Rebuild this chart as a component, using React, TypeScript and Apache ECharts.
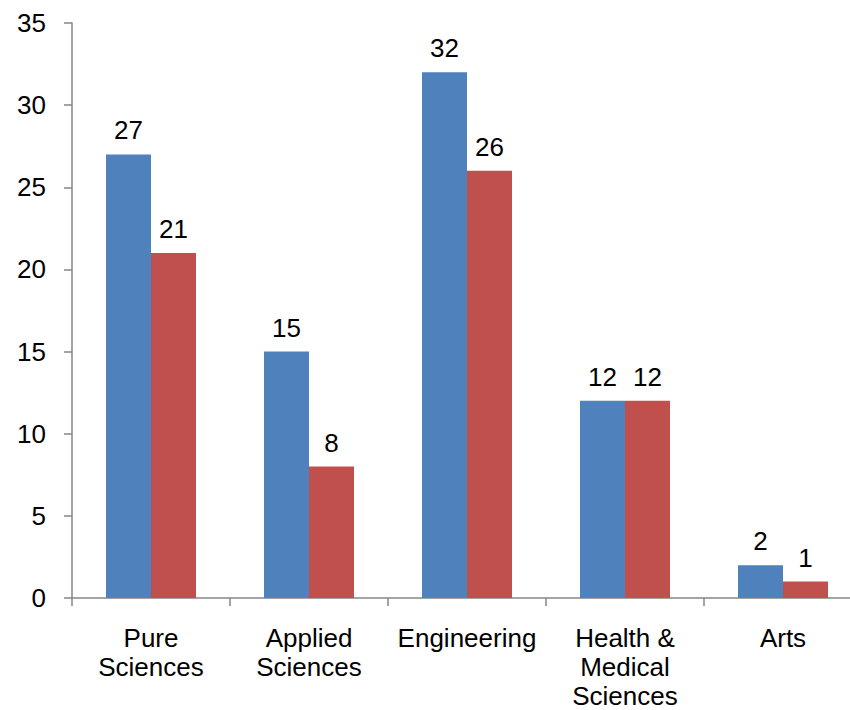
import React, { useEffect, useRef } from "react";
import * as echarts from "echarts";

const categories = ["Pure Sciences", "Applied Sciences", "Engineering", "Health & Medical Sciences", "Arts"];
const categoryLabels = ["Pure\nSciences", "Applied\nSciences", "Engineering", "Health &\nMedical\nSciences", "Arts"];
const seriesA = [27, 15, 32, 12, 2];
const seriesB = [21, 8, 26, 12, 1];
const yTicks = { min: 0, max: 35, interval: 5 };

const FONT = "'Liberation Sans', Arial, sans-serif";

export default function App() {
  const ref = useRef<HTMLDivElement>(null);
  useEffect(() => {
    if (!ref.current) return;
    const chart = echarts.init(ref.current, null, { renderer: "svg" });
    const labelStyle = {
      show: true,
      position: "top" as const,
      distance: 11,
      color: "#000",
      fontSize: 26,
      fontFamily: FONT,
    };
    chart.setOption({
      animation: false,
      backgroundColor: "#fff",
      grid: {
        left: 72,
        top: 23,
        width: 790,
        height: 575,
        containLabel: false,
        outerBoundsMode: "none",
      },
      xAxis: {
        type: "category",
        data: categories,
        axisLine: { show: true, lineStyle: { color: "#868686", width: 1.5 } },
        axisTick: { show: true, length: 8, lineStyle: { color: "#868686", width: 1.5 } },
        axisLabel: {
          interval: 0,
          margin: 25,
          color: "#000",
          fontSize: 26,
          fontFamily: FONT,
          lineHeight: 29,
          formatter: (_v: string, i: number) => categoryLabels[i],
        },
      },
      yAxis: {
        type: "value",
        min: yTicks.min,
        max: yTicks.max,
        interval: yTicks.interval,
        splitLine: { show: false },
        axisLine: { show: true, lineStyle: { color: "#868686", width: 1.5 } },
        axisTick: { show: true, length: 8, lineStyle: { color: "#868686", width: 1.5 } },
        axisLabel: { margin: 26, color: "#000", fontSize: 26, fontFamily: FONT },
      },
      series: [
        {
          type: "bar",
          data: seriesA,
          barWidth: 45,
          barGap: "0%",
          itemStyle: { color: "#4F81BD" },
          label: labelStyle,
        },
        {
          type: "bar",
          data: seriesB,
          barWidth: 45,
          barGap: "0%",
          itemStyle: { color: "#C0504D" },
          label: labelStyle,
        },
      ],
    });
    return () => chart.dispose();
  }, []);
  return (
    <div
      ref={ref}
      style={{ position: "absolute", left: 0, top: 0, width: 850, height: 710 }}
    />
  );
}
